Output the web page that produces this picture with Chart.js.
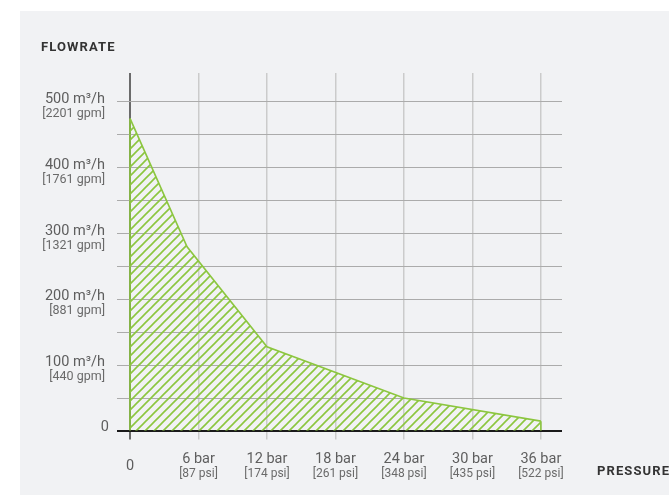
<!DOCTYPE html>
<html>
<head>
<meta charset="utf-8">
<script src="https://cdn.jsdelivr.net/npm/chart.js@4.4.1/dist/chart.umd.min.js"></script>
<style>
  html, body { margin: 0; padding: 0; background: #ffffff; }
  #wrap { position: relative; width: 669px; height: 495px; overflow: hidden; }
  #panel { position: absolute; left: 20px; top: 11px; right: 0; bottom: 0; background: #f1f2f4; }
  canvas { position: absolute; left: 0; top: 0; }
</style>
</head>
<body>
<div id="wrap">
  <div id="panel"></div>
  <canvas id="c" width="669" height="495"></canvas>
</div>
<script>
// ---- data ----
const pressureBar = [0, 5, 12, 24, 36];
const flowM3h = [475, 280, 128, 50, 15];

const yTickValues = [0, 100, 200, 300, 400, 500];
const yTickMain = ['0', '100 m³/h', '200 m³/h', '300 m³/h', '400 m³/h', '500 m³/h'];
const yTickSub = ['', '[440 gpm]', '[881 gpm]', '[1321 gpm]', '[1761 gpm]', '[2201 gpm]'];

const xTickValues = [0, 6, 12, 18, 24, 30, 36];
const xTickMain = ['0', '6 bar', '12 bar', '18 bar', '24 bar', '30 bar', '36 bar'];
const xTickSub = ['', '[87 psi]', '[174 psi]', '[261 psi]', '[348 psi]', '[435 psi]', '[522 psi]'];

const yAxisTitle = 'FLOWRATE';
const xAxisTitle = 'PRESSURE';

// ---- hatch pattern ----
function makeHatch(color) {
  const s = 9;
  const pc = document.createElement('canvas');
  pc.width = s; pc.height = s;
  const p = pc.getContext('2d');
  p.strokeStyle = color;
  p.lineWidth = 1.6;
  p.beginPath();
  p.moveTo(-1, s + 1); p.lineTo(s + 1, -1);
  p.moveTo(-1 - s, s + 1); p.lineTo(1, -1);
  p.moveTo(s - 1, s + 1); p.lineTo(2 * s + 1, -1);
  p.stroke();
  return p.createPattern(pc, 'repeat');
}

const green = '#8cc63f';
const ctx = document.getElementById('c').getContext('2d');

const labelsPlugin = {
  id: 'customLabels',
  afterDatasetsDraw(chart) {
    const c = chart.ctx;
    const xs = chart.scales.x, ys = chart.scales.y;
    const base = ys.getPixelForValue(0);
    // polygon vertical edges
    c.save();
    c.strokeStyle = green;
    c.lineWidth = 1.6;
    [0, pressureBar.length - 1].forEach(i => {
      const px = xs.getPixelForValue(pressureBar[i]);
      c.beginPath();
      c.moveTo(px, ys.getPixelForValue(flowM3h[i]));
      c.lineTo(px, base);
      c.stroke();
    });
    // x axis (zero line) on top of the fill
    c.strokeStyle = '#1a1a1a';
    c.lineWidth = 1.5;
    c.beginPath();
    c.moveTo(chart.chartArea.left - 13, Math.round(base) + 0.25);
    c.lineTo(chart.chartArea.right, Math.round(base) + 0.25);
    c.stroke();
    c.restore();

    c.save();
    // y tick labels
    c.textAlign = 'right';
    c.textBaseline = 'alphabetic';
    yTickValues.forEach((v, i) => {
      const py = ys.getPixelForValue(v);
      c.fillStyle = '#5e5e5e';
      c.font = '14.5px Roboto';
      if (yTickSub[i]) {
        c.fillText(yTickMain[i], 105, py + 1);
        c.fillStyle = '#6a6a6a';
        c.font = '12.5px Roboto';
        c.fillText(yTickSub[i], 105, py + 15);
      } else {
        c.fillText(yTickMain[i], 109, py);
      }
    });
    // x tick labels
    c.textAlign = 'center';
    xTickValues.forEach((v, i) => {
      const px = xs.getPixelForValue(v);
      c.fillStyle = '#5e5e5e';
      c.font = '14.5px Roboto';
      if (xTickSub[i]) {
        c.fillText(xTickMain[i], px, 463);
        c.fillStyle = '#6a6a6a';
        c.font = '12px Roboto';
        c.fillText(xTickSub[i], px, 477);
      } else {
        c.fillText(xTickMain[i], px, 470);
      }
    });
    // axis titles
    c.fillStyle = '#333333';
    c.font = 'bold 13px Roboto';
    c.letterSpacing = '1.1px';
    c.textAlign = 'left';
    c.fillText(yAxisTitle, 41, 51);
    c.fillText(xAxisTitle, 597, 475);
    c.restore();
  }
};

new Chart(ctx, {
  type: 'line',
  data: {
    datasets: [{
      data: pressureBar.map((p, i) => ({ x: p, y: flowM3h[i] })),
      borderColor: green,
      borderWidth: 1.6,
      backgroundColor: makeHatch(green),
      fill: 'origin',
      pointRadius: 0,
      tension: 0
    }]
  },
  options: {
    responsive: false,
    animation: false,
    devicePixelRatio: 1,
    layout: { padding: { left: 117, right: 107, top: 73, bottom: 55.5 } },
    plugins: { legend: { display: false }, tooltip: { enabled: false } },
    scales: {
      x: {
        type: 'linear',
        min: 0, max: 37.85,
        border: { display: false },
        ticks: { display: false, stepSize: 6, includeBounds: false },
        grid: {
          tickLength: 8.5,
          color: c => c.tick && c.tick.value === 0 ? '#6b6b6b' : '#cbcbcb',
          tickColor: c => c.tick && c.tick.value === 0 ? '#6b6b6b' : '#cbcbcb',
          lineWidth: c => c.tick && c.tick.value === 0 ? 2 : 1.5
        }
      },
      y: {
        type: 'linear',
        min: 0, max: 544,
        border: { display: false },
        ticks: { display: false, stepSize: 50, includeBounds: false },
        grid: {
          tickLength: 13,
          color: c => c.tick && c.tick.value === 0 ? '#1a1a1a' : '#ababab',
          tickColor: c => c.tick && c.tick.value === 0 ? '#1a1a1a' : '#ababab',
          lineWidth: c => c.tick && c.tick.value === 0 ? 1.5 : 1
        }
      }
    }
  },
  plugins: [labelsPlugin]
});
</script>
</body>
</html>
